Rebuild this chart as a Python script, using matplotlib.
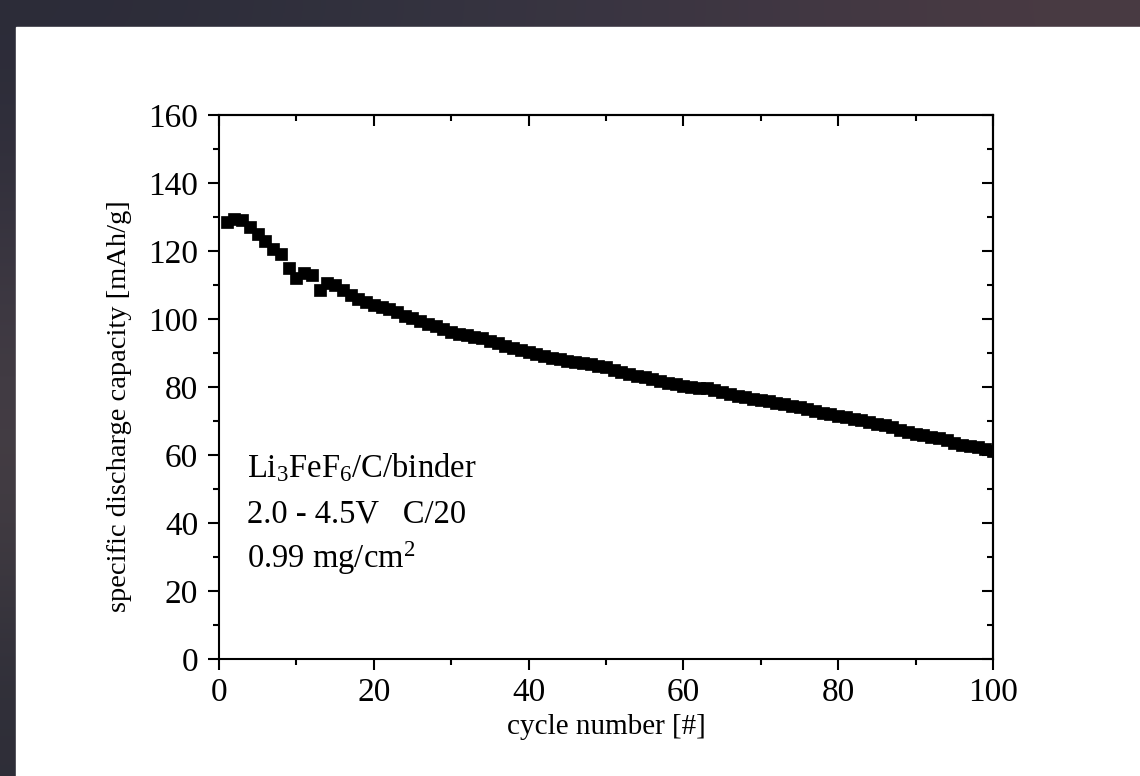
import numpy as np
import matplotlib
matplotlib.use("Agg")
import matplotlib.pyplot as plt
from matplotlib.patches import Rectangle
from matplotlib.ticker import MultipleLocator

# discharge capacity per cycle
cycles = np.arange(1, 101)
capacity = [
    128.5, 129.5, 129.0, 127.0, 125.0, 123.0, 120.5, 119.0, 115.0, 112.0,
    113.5, 113.0, 108.5, 110.5, 110.0, 108.5, 107.0, 106.0, 105.0, 104.2,
    103.5, 102.8, 102.0, 101.0, 100.3, 99.5, 98.6, 97.8, 97.0, 96.3,
    95.6, 95.2, 94.8, 94.3, 93.6, 92.8, 92.2, 91.6, 91.0, 90.3,
    89.7, 89.2, 88.6, 88.1, 87.7, 87.4, 87.1, 86.7, 86.3, 85.8,
    85.1, 84.5, 83.9, 83.3, 82.8, 82.3, 81.8, 81.3, 80.8, 80.3,
    79.9, 79.8, 79.7, 79.2, 78.6, 78.0, 77.5, 77.0, 76.6, 76.2,
    75.8, 75.4, 75.0, 74.5, 74.0, 73.5, 73.0, 72.5, 72.0, 71.6,
    71.2, 70.7, 70.2, 69.7, 69.2, 68.7, 68.1, 67.5, 66.9, 66.3,
    65.8, 65.3, 64.9, 64.4, 63.5, 63.0, 62.7, 62.3, 61.8, 61.2,
]

x_major = [0, 20, 40, 60, 80, 100]
y_major = [0, 20, 40, 60, 80, 100, 120, 140, 160]

sample_lines = [
    "Li$_3$FeF$_6$/C/binder",
    "2.0 - 4.5V   C/20",
    "0.99 mg/cm$^2$",
]

plt.rcParams["font.family"] = ["Liberation Serif", "DejaVu Serif"]
plt.rcParams["mathtext.fontset"] = "custom"
plt.rcParams["mathtext.rm"] = "Liberation Serif"
plt.rcParams["mathtext.it"] = "Liberation Serif:italic"
plt.rcParams["mathtext.bf"] = "Liberation Serif:bold"

W, H = 1140, 776
fig = plt.figure(figsize=(W / 100, H / 100), dpi=100)

# dark slide background with a white page on top
bg = fig.add_axes([0, 0, 1, 1], zorder=-10)
grad = np.array([
    [[0.17, 0.17, 0.22], [0.20, 0.20, 0.25], [0.24, 0.21, 0.26], [0.29, 0.23, 0.26]],
    [[0.24, 0.22, 0.26], [0.24, 0.22, 0.26], [0.24, 0.22, 0.26], [0.24, 0.22, 0.26]],
    [[0.28, 0.25, 0.27], [0.28, 0.25, 0.27], [0.28, 0.25, 0.27], [0.28, 0.25, 0.27]],
    [[0.18, 0.18, 0.22], [0.18, 0.18, 0.22], [0.18, 0.18, 0.22], [0.18, 0.18, 0.22]],
])
bg.imshow(grad, extent=[0, 1, 0, 1], aspect="auto", interpolation="bicubic")
bg.add_patch(Rectangle((16 / W, 0), 1, 1 - 27 / H, color="white"))
bg.set_xlim(0, 1)
bg.set_ylim(0, 1)
bg.set_axis_off()

ax = fig.add_axes([219 / W, 117 / H, 774 / W, 544 / H])
ax.plot(cycles, capacity, "s", color="black", ms=8.4, mec="black", mew=0.5)

ax.set_xlim(0, 100)
ax.set_ylim(0, 160)
ax.set_xticks(x_major)
ax.set_yticks(y_major)
ax.xaxis.set_minor_locator(MultipleLocator(10))
ax.yaxis.set_minor_locator(MultipleLocator(10))
ax.tick_params(which="major", direction="out", length=8, width=1.5,
               labelsize=24, pad=5, color="black")
ax.tick_params(axis="y", which="major", pad=7)
ax.tick_params(which="minor", direction="out", length=4.5, width=1.5)
for s in ax.spines.values():
    s.set_linewidth(1.5)

# inward ticks on the top and right frame
top = ax.secondary_xaxis("top")
top.xaxis.set_major_locator(MultipleLocator(20))
top.xaxis.set_minor_locator(MultipleLocator(10))
top.tick_params(which="major", direction="in", length=8, width=1.5, labeltop=False)
top.tick_params(which="minor", direction="in", length=4.5, width=1.5)
right = ax.secondary_yaxis("right")
right.yaxis.set_major_locator(MultipleLocator(20))
right.yaxis.set_minor_locator(MultipleLocator(10))
right.tick_params(which="major", direction="in", length=8, width=1.5, labelright=False)
right.tick_params(which="minor", direction="in", length=4.5, width=1.5)
for sec in (top, right):
    for s in sec.spines.values():
        s.set_linewidth(1.5)

ax.set_xlabel("cycle number [#]", fontsize=21, labelpad=5)
ax.set_ylabel("specific discharge capacity [mAh/g]", fontsize=20.5)
ax.yaxis.set_label_coords(-0.113, 0.465)

for i, line in enumerate(sample_lines):
    ax.text(0.036, 0.334 - i * 0.083, line, transform=ax.transAxes,
            fontsize=23.5, va="baseline", ha="left")

fig.savefig("out.png", dpi=100)
